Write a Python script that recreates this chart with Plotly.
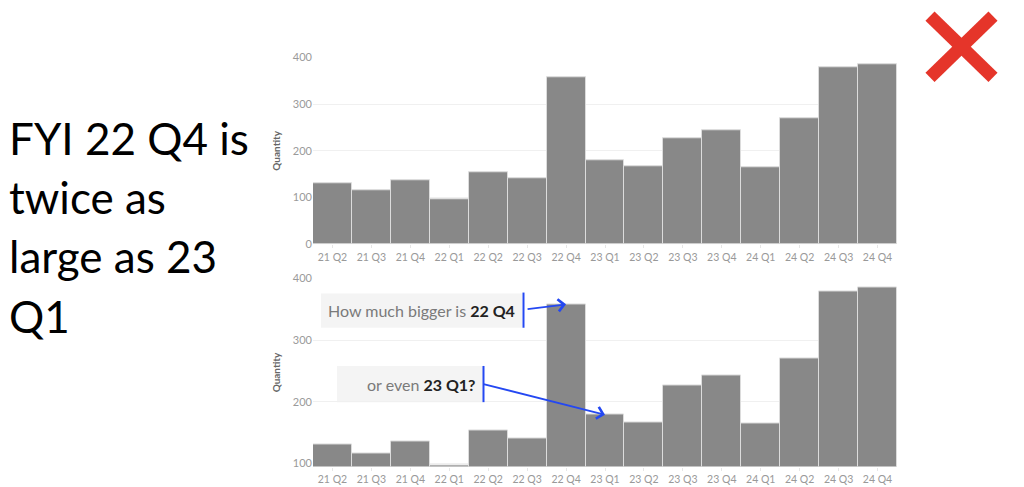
import plotly.graph_objects as go

quarters = ["21 Q2", "21 Q3", "21 Q4", "22 Q1", "22 Q2", "22 Q3", "22 Q4",
            "23 Q1", "23 Q2", "23 Q3", "23 Q4", "24 Q1", "24 Q2", "24 Q3", "24 Q4"]
quantity = [131, 116, 136, 96, 153, 141, 358,
            179, 166, 226, 243, 164, 270, 379, 386]

top_ticks = [0, 100, 200, 300, 400]
bottom_ticks = [100, 200, 300, 400]

fyi_lines = ["FYI 22 Q4 is", "twice as", "large as 23", "Q1"]

W, H = 1024, 487
BAR = "#888888"
BLUE = "#2448f2"
# the photographed page came out squeezed vertically (y_pic ~ 8 + 0.968*y_page),
# so positions below are given in picture pixels and undone here
SY, OY = 0.968, 8


def px(x):
    return x / W


def py(y):
    return 1 - ((y - OY) / SY) / H


fig = go.Figure()
for ax in ["x", "x2"]:
    fig.add_trace(go.Bar(
        x=quarters, y=quantity, xaxis=ax, yaxis=ax.replace("x", "y"),
        marker=dict(color=BAR, line=dict(color="#dcdcdc", width=1)),
        hoverinfo="x+y", showlegend=False,
    ))

axis_font = dict(family="Lato, Open Sans, sans-serif", size=11, color="#9a9a9a")
xcommon = dict(type="category", ticks="outside", ticklen=3, tickcolor="#e6e6e6",
               tickfont=dict(family="Lato, Open Sans, sans-serif", size=10.5, color="#999999"),
               showgrid=False, showline=False, zeroline=False)
ycommon = dict(showgrid=True, gridcolor="#f0f0f0", zeroline=False, showline=False,
               ticks="", tickfont=axis_font,
               title=dict(text="<b>Quantity</b>", standoff=10,
                          font=dict(family="Lato, Open Sans, sans-serif", size=10, color="#666666")))

fig.update_layout(
    width=W, height=H,
    margin=dict(l=0, r=0, t=0, b=0),
    paper_bgcolor="white", plot_bgcolor="white",
    bargap=0,
    xaxis=dict(domain=[px(313), px(897)], anchor="y", **xcommon),
    yaxis=dict(domain=[py(244), py(58)], anchor="x", range=[0, 400],
               tickvals=top_ticks, **ycommon),
    xaxis2=dict(domain=[px(313), px(897)], anchor="y2", **xcommon),
    yaxis2=dict(domain=[py(465), py(278)], anchor="x2", range=[95, 400],
                tickvals=bottom_ticks, **ycommon),
)

shapes = [
    # callout boxes
    dict(type="rect", xref="paper", yref="paper", x0=px(321), x1=px(522),
         y0=py(327), y1=py(293), fillcolor="#f4f4f4", line=dict(width=0), layer="below"),
    dict(type="rect", xref="paper", yref="paper", x0=px(337), x1=px(483),
         y0=py(401), y1=py(365), fillcolor="#f4f4f4", line=dict(width=0), layer="below"),
    # blue bars at box edge
    dict(type="line", xref="paper", yref="paper", x0=px(523.5), x1=px(523.5),
         y0=py(292), y1=py(327), line=dict(color=BLUE, width=2)),
    dict(type="line", xref="paper", yref="paper", x0=px(483.5), x1=px(483.5),
         y0=py(365), y1=py(401), line=dict(color=BLUE, width=2)),
    # red cross
    dict(type="line", xref="paper", yref="paper", x0=px(930), x1=px(993),
         y0=py(17), y1=py(78), line=dict(color="#e5352a", width=13)),
    dict(type="line", xref="paper", yref="paper", x0=px(930), x1=px(993),
         y0=py(78), y1=py(17), line=dict(color="#e5352a", width=13)),
]
fig.update_layout(shapes=shapes)

ann = []
# left big text
for i, line in enumerate(fyi_lines):
    ann.append(dict(xref="paper", yref="paper", x=px(7), y=py(138 + i * 59),
                    xanchor="left", yanchor="middle", showarrow=False, text=line,
                    font=dict(family="Lato, Open Sans, sans-serif", size=44, color="black")))

callout_font = dict(family="Lato, Open Sans, sans-serif", size=16, color="#7a7a7a")
ann.append(dict(xref="paper", yref="paper", x=px(517), y=py(310), xanchor="right",
                yanchor="middle", showarrow=False, font=callout_font,
                text="How much bigger is <b><span style='color:#222'>22 Q4</span></b>"))
ann.append(dict(xref="paper", yref="paper", x=px(477), y=py(383), xanchor="right",
                yanchor="middle", showarrow=False, font=callout_font,
                text="or even <b><span style='color:#222'>23 Q1?</span></b>"))

# arrows pointing to bar tops
ann.append(dict(xref="x2", yref="y2", x="22 Q4", y=quantity[6], text="",
                showarrow=True, arrowhead=4, arrowsize=1.3, arrowwidth=1.8,
                arrowcolor=BLUE, ax=-40, ay=5, standoff=0))
ann.append(dict(xref="x2", yref="y2", x="23 Q1", y=quantity[7], text="",
                showarrow=True, arrowhead=4, arrowsize=1.3, arrowwidth=1.8,
                arrowcolor=BLUE, ax=-123, ay=-31, standoff=0))
fig.update_layout(annotations=ann)

# drop the default page margin so the figure sits at the window corner
fig.write_html("out.html", post_script="document.body.style.margin = '0';",
               config={"displayModeBar": False})
